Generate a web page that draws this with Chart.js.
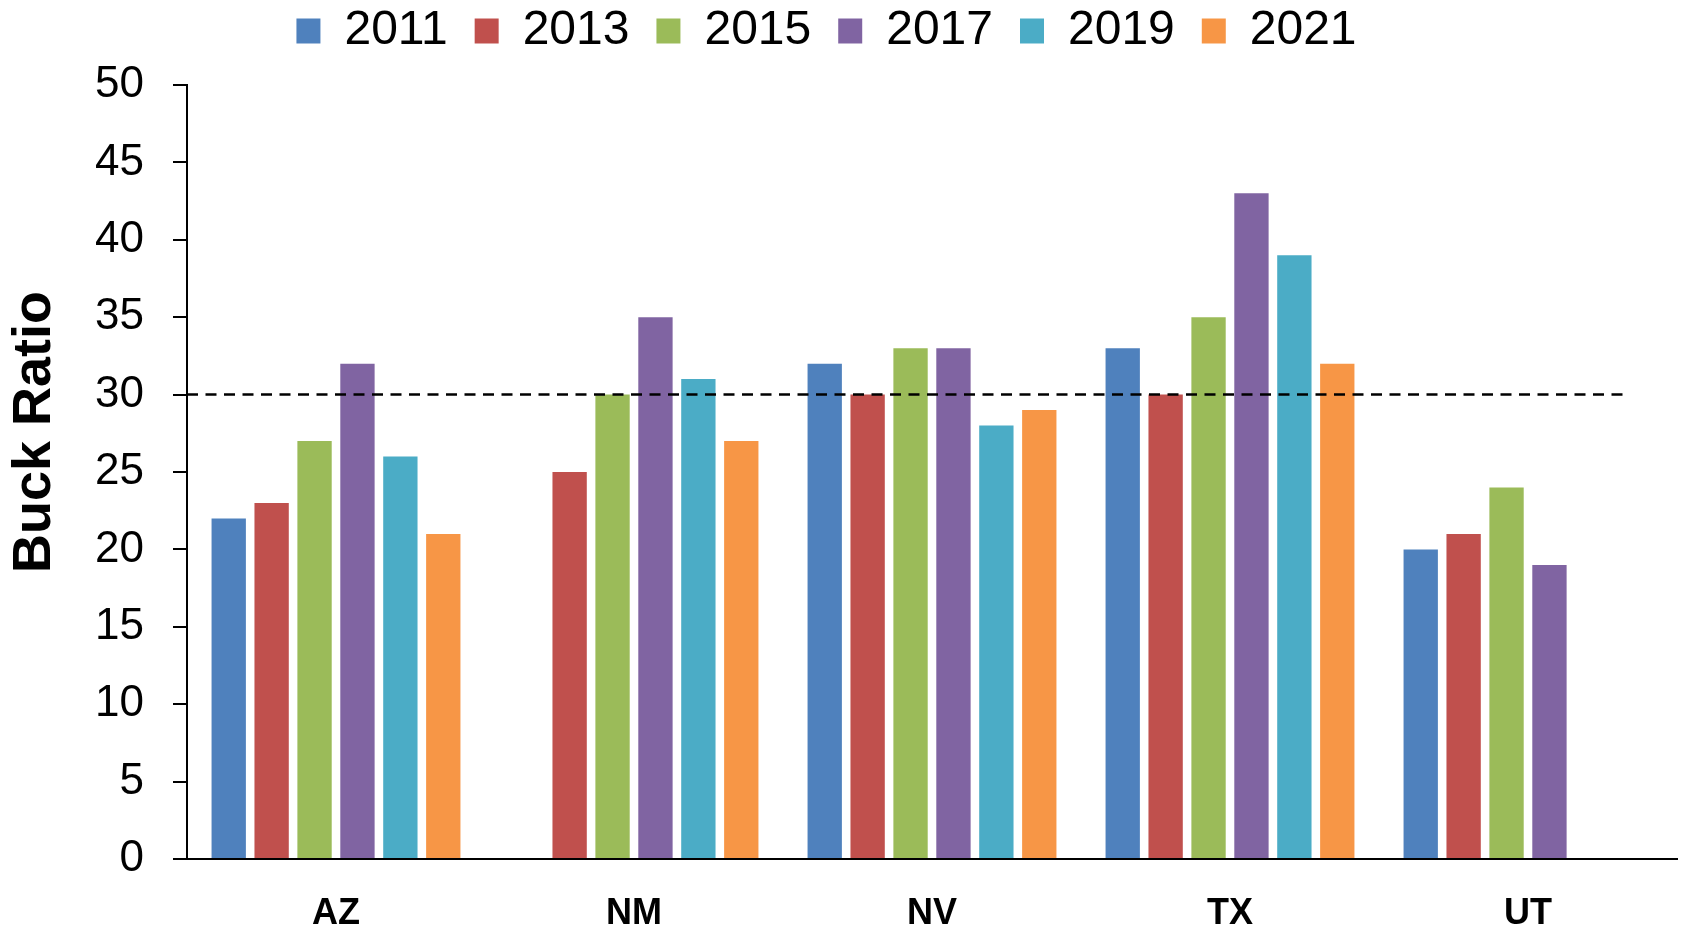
<!DOCTYPE html>
<html>
<head>
<meta charset="utf-8">
<script src="https://cdn.jsdelivr.net/npm/chart.js@4/dist/chart.umd.min.js"></script>
<style>
  html, body { margin: 0; padding: 0; background: #fff; }
  #wrap { width: 1683px; height: 931px; }
</style>
</head>
<body>
<div id="wrap"><canvas id="buckChart" width="1683" height="931"></canvas></div>
<script>
// Buck ratio by state and survey year
const states = ['AZ', 'NM', 'NV', 'TX', 'UT'];
const years = ['2011', '2013', '2015', '2017', '2019', '2021'];
const yearColors = ['#4F81BD', '#C0504D', '#9BBB59', '#8064A2', '#4BACC6', '#F79646'];

const ratio2011 = [22, null, 32, 33, 20];
const ratio2013 = [23, 25, 30, 30, 21];
const ratio2015 = [27, 30, 33, 35, 24];
const ratio2017 = [32, 35, 33, 43, 19];
const ratio2019 = [26, 31, 28, 39, null];
const ratio2021 = [21, 27, 29, 32, null];

const yTicks = [0, 5, 10, 15, 20, 25, 30, 35, 40, 45, 50];
const targetRatio = 30;
const yTitleText = 'Buck Ratio';

const seriesValues = [ratio2011, ratio2013, ratio2015, ratio2017, ratio2019, ratio2021];
const FONT = "'Liberation Sans', Arial, sans-serif";

// Dashed reference line at the target ratio
const targetLine = {
  id: 'targetLine',
  afterDatasetsDraw(chart) {
    const { ctx, chartArea, scales } = chart;
    const y = scales.y.getPixelForValue(targetRatio);
    ctx.save();
    ctx.strokeStyle = '#000';
    ctx.lineWidth = 2.5;
    ctx.setLineDash([11, 7.5]);
    ctx.beginPath();
    ctx.moveTo(chartArea.left, y);
    ctx.lineTo(chartArea.right - 50, y);
    ctx.stroke();
    ctx.restore();
  }
};

// Y axis title, sits a bit above the middle like the original
const yTitle = {
  id: 'yTitle',
  afterDraw(chart) {
    const { ctx, chartArea } = chart;
    ctx.save();
    ctx.translate(35, (chartArea.top + chartArea.bottom) / 2 - 40);
    ctx.rotate(-Math.PI / 2);
    ctx.fillStyle = '#000';
    ctx.font = 'bold 54px ' + FONT;
    ctx.textAlign = 'center';
    ctx.textBaseline = 'middle';
    ctx.fillText(yTitleText, 0, 0);
    ctx.restore();
  }
};

// Nudge the legend up/left so it hugs the top edge, leaving a gap above the plot
const legendNudge = {
  id: 'legendNudge',
  afterLayout(chart) {
    const lg = chart.legend;
    if (!lg) return;
    lg.top -= 20;
    lg.bottom -= 20;
    lg.left -= 12;
    lg.right -= 12;
  }
};

new Chart(document.getElementById('buckChart').getContext('2d'), {
  type: 'bar',
  data: {
    labels: states,
    datasets: years.map((yr, i) => ({
      label: yr,
      data: seriesValues[i],
      backgroundColor: yearColors[i],
      borderWidth: 0,
      categoryPercentage: 0.864,
      barPercentage: 0.8
    }))
  },
  plugins: [targetLine, yTitle, legendNudge],
  options: {
    responsive: false,
    animation: false,
    layout: { padding: { left: 0, right: 6, top: 0, bottom: 0 } },
    plugins: {
      tooltip: { enabled: false },
      legend: {
        position: 'top',
        align: 'center',
        labels: {
          color: '#000',
          font: { family: FONT, size: 48 },
          boxWidth: 24,
          boxHeight: 25,
          padding: 27
        }
      }
    },
    scales: {
      x: {
        grid: { display: false, drawTicks: false },
        border: { display: true, color: '#000', width: 2 },
        ticks: {
          color: '#000',
          font: { family: FONT, size: 36, weight: 'bold' },
          padding: 33
        },
        afterFit(scale) { scale.height = 72; }
      },
      y: {
        min: 0,
        max: 50,
        afterBuildTicks(scale) { scale.ticks = yTicks.map(v => ({ value: v })); },
        grid: { drawOnChartArea: false, drawTicks: true, tickLength: 14, color: '#000', lineWidth: 2 },
        border: { display: true, color: '#000', width: 2 },
        ticks: {
          color: '#000',
          font: { family: FONT, size: 44 },
          padding: 29
        },
        afterFit(scale) { scale.width = 187; }
      }
    }
  }
});
</script>
</body>
</html>
